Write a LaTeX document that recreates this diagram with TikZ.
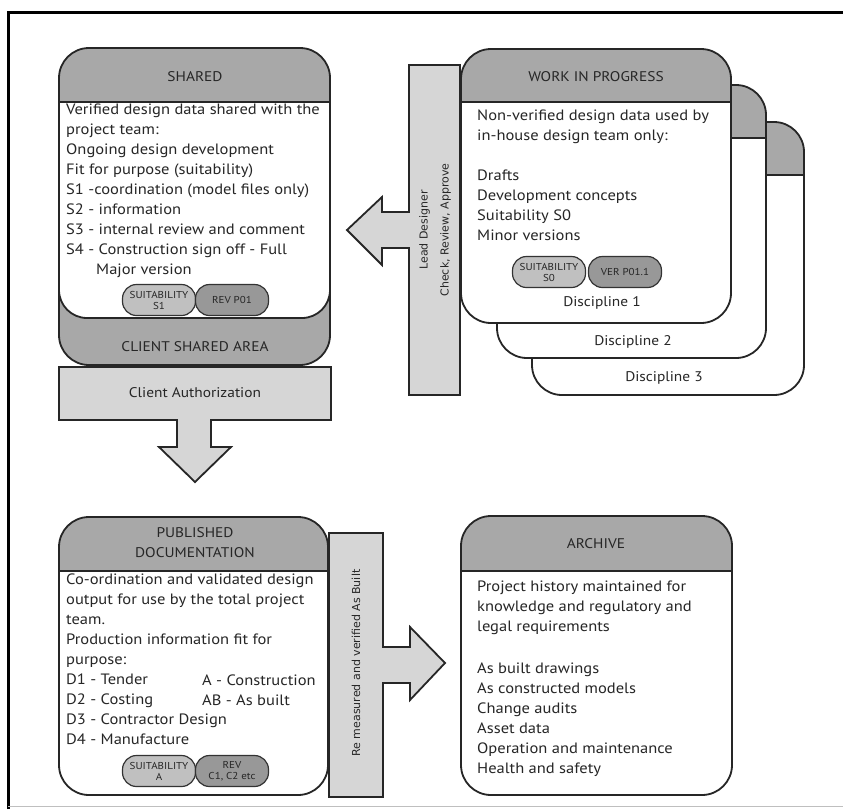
\documentclass[tikz,border=0pt]{standalone}
\usepackage{fontspec}
\setmainfont{PT Sans}[FakeStretch=1.1]
\newfontfamily\vfont{DejaVu Sans}
\definecolor{hdr}{RGB}{168,168,168}
\definecolor{barc}{RGB}{214,214,214}
\definecolor{pilla}{RGB}{192,192,192}
\definecolor{pillb}{RGB}{152,152,152}
\definecolor{ink}{RGB}{38,38,38}
\newcommand\mycard[5]{%
 \begin{scope}
 \clip[rounded corners=30pt] (#1,#2) rectangle (#3,#4);
 \fill[white] (#1,#2) rectangle (#3,#4);
 \fill[hdr] (#1,#2) rectangle (#3,#5);
 \end{scope}
 \draw[boxline] (#1,#5) -- (#3,#5);
 \draw[boxline,rounded corners=30pt] (#1,#2) rectangle (#3,#4);
}
\begin{document}
\begin{tikzpicture}[x=1pt,y=-1pt,
 boxline/.style={line width=1.8pt, draw=black!85},
 body/.style={font=\fontsize{15}{20}\selectfont, align=left, anchor=north west, inner sep=0pt, text=ink},
 head/.style={font=\fontsize{14}{20}\selectfont, align=center, text=ink, inner sep=0pt},
 pill/.style={draw=black!80, line width=1.2pt, rounded corners=14pt, minimum width=73pt, minimum height=31pt, inner sep=0pt, align=center, font=\fontsize{10}{11}\selectfont, text=ink},
 vtext/.style={font=\vfont\fontsize{11}{21}\selectfont, rotate=90, align=center, text=ink},
 blk/.style={fill=barc, boxline}]
\useasboundingbox (0,0) rectangle (843,809);
\fill[white] (0,0) rectangle (843,809);
% frame
\draw[line width=3pt] (8,809) -- (8,12) -- (843,12);
\draw[black!25, line width=1pt] (8,806) -- (843,806);

% SHARED
\fill[hdr,rounded corners=30pt] (59,48) rectangle (330,365);
\begin{scope}
\clip (45,102) rectangle (345,340);
\draw[boxline, fill=white, rounded corners=28pt] (59,70) rectangle (330,318);
\end{scope}
\draw[boxline] (59,102) -- (330,102);
\draw[boxline,rounded corners=30pt] (59,48) rectangle (330,365);

% client authorization + down arrow
\draw[blk] (59,367) -- (331,367) -- (331,420) -- (211,420) -- (211,447) -- (231,447) -- (195,482) -- (159,447) -- (177,447) -- (177,420) -- (59,420) -- cycle;

% lead designer bar + left arrow
\draw[blk] (409,65) -- (460,65) -- (460,395) -- (409,395) -- (409,248) -- (382,248) -- (382,265) -- (347,230) -- (382,197) -- (382,212) -- (409,212) -- cycle;

% WIP stack
\mycard{532}{122}{804}{395}{175}
\mycard{497}{85}{766}{358}{138}
\mycard{461}{49}{731}{323}{102}

% published + archive
\mycard{59}{517}{328}{795}{571}
\mycard{461}{516}{732}{795}{571}

% re measured bar + right arrow
\draw[blk] (329,533) -- (383,533) -- (383,647) -- (410,647) -- (410,627) -- (445,663) -- (410,700) -- (410,683) -- (383,683) -- (383,797) -- (329,797) -- cycle;

% texts SHARED
\node[head] (tshared) at (195,77) {SHARED};
\node[body] (bshared) at (66,104) {Verified design data shared with the\\project team:\\Ongoing design development\\Fit for purpose (suitability)\\S1 -coordination (model files only)\\S2 - information\\S3 - internal review and comment\\S4 - Construction sign off - Full\\\hspace*{30pt}Major version};
\node[pill, fill=pilla] (ps1) at (159,300) {SUITABILITY\\S1};
\node[pill, fill=pillb] (pr1) at (232,300) {REV P01};
\node[head] (tcsa) at (195,347) {CLIENT SHARED AREA};
\node[head] (tca) at (195,393) {Client Authorization};

% WIP texts
\node[head] (twip) at (596,77) {WORK IN PROGRESS};
\node[body] (bwip) at (477,110) {Non-verified design data used by\\in-house design team only:\\[20pt]Drafts\\Development concepts\\Suitability S0\\Minor versions};
\node[pill, fill=pilla] (ps0) at (549,272) {SUITABILITY\\S0};
\node[pill, fill=pillb] (pv) at (625,272) {VER P01.1};
\node[head] (d1) at (602,303) {Discipline 1};
\node[head] (d2) at (633,342) {Discipline 2};
\node[head] (d3) at (664,378) {Discipline 3};

\node[vtext] (lead) at (435,230) {Lead Designer\\Check, Review, Approve};
\node[vtext] (remeas) at (356,663) {Re measured and verified As Built};

% published texts
\node[head] (tpub) at (195,543) {PUBLISHED\\DOCUMENTATION};
\node[body] (bpub) at (66,574) {Co-ordination and validated design\\output for use by the total project\\team.\\Production information fit for\\purpose:\\D1 - Tender\\D2 - Costing\\D3 - Contractor Design\\D4 - Manufacture};
\node[body] (bpub2) at (202,675) {A - Construction\\AB - As built};
\node[pill, fill=pilla] (psa) at (159,771) {SUITABILITY\\A};
\node[pill, fill=pillb] (prc) at (232,771) {REV\\C1, C2 etc};

% archive texts
\node[head] (tarc) at (596,544) {ARCHIVE};
\node[body] (barc) at (477,581) {Project history maintained for\\knowledge and regulatory and\\legal requirements\\[22pt]As built drawings\\As constructed models\\Change audits\\Asset data\\Operation and maintenance\\Health and safety};
\end{tikzpicture}
\end{document}
